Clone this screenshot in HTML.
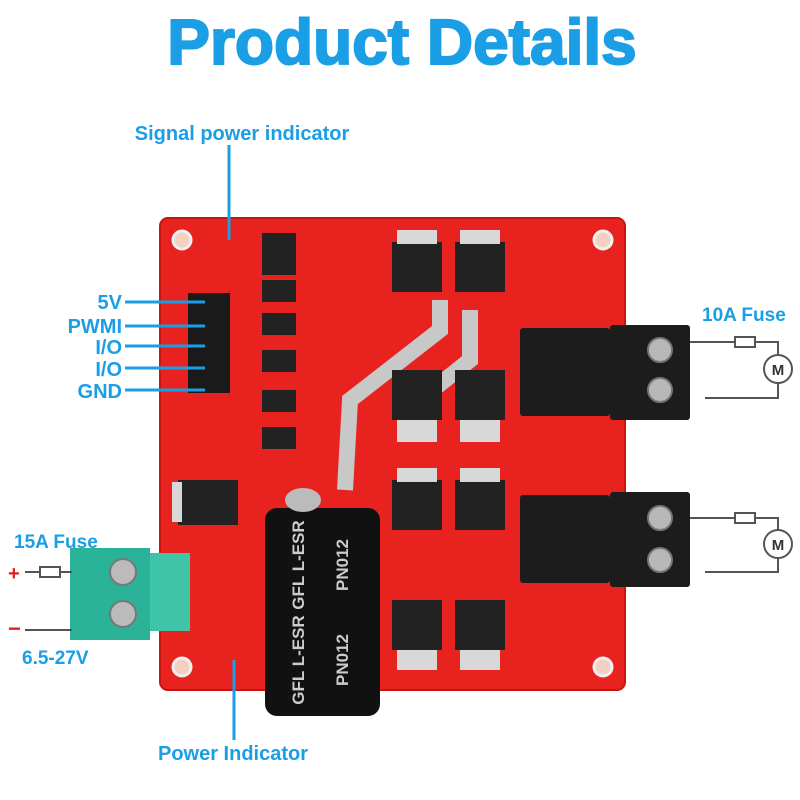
<!DOCTYPE html>
<html><head><style>
html,body{margin:0;padding:0;background:#fff;}
svg{display:block;}
text{font-family:"Liberation Sans",sans-serif;font-weight:bold;}
</style></head><body>
<svg width="800" height="800" viewBox="0 0 800 800" xmlns="http://www.w3.org/2000/svg">
<rect width="800" height="800" fill="#fff"/>
<text x="402" y="64" text-anchor="middle" font-size="64" fill="#1a9ee6" stroke="#1a9ee6" stroke-width="2">Product Details</text>
<!-- PCB -->
<rect x="160" y="218" width="465" height="472" rx="8" fill="#e8231f"/>
<rect x="160" y="218" width="465" height="472" rx="8" fill="none" stroke="#c81510" stroke-width="2"/>
<g fill="#f4d0c0" stroke="#f0f0f0" stroke-width="3">
<circle cx="182" cy="240" r="9"/><circle cx="603" cy="240" r="9"/><circle cx="182" cy="667" r="9"/><circle cx="603" cy="667" r="9"/>
</g>
<path d="M440 300 L440 330 L350 400 L345 490 M470 310 L470 360 L420 400" stroke="#c8c8c8" stroke-width="16" fill="none"/>
<g fill="#222">
<rect x="262" y="233" width="34" height="22"/><rect x="262" y="280" width="34" height="22"/><rect x="262" y="313" width="34" height="22"/><rect x="262" y="350" width="34" height="22"/><rect x="262" y="390" width="34" height="22"/><rect x="262" y="427" width="34" height="22"/>
<rect x="262" y="253" width="34" height="22"/>
</g>
<rect x="188" y="293" width="42" height="100" fill="#1a1a1a"/>
<g fill="#222">
<rect x="392" y="242" width="50" height="50"/><rect x="455" y="242" width="50" height="50"/>
<rect x="392" y="370" width="50" height="50"/><rect x="455" y="370" width="50" height="50"/>
<rect x="392" y="480" width="50" height="50"/><rect x="455" y="480" width="50" height="50"/>
<rect x="392" y="600" width="50" height="50"/><rect x="455" y="600" width="50" height="50"/>
<rect x="178" y="480" width="60" height="45"/>
</g>
<g fill="#d8d8d8">
<rect x="397" y="230" width="40" height="14"/><rect x="460" y="230" width="40" height="14"/>
<rect x="397" y="420" width="40" height="22"/><rect x="460" y="420" width="40" height="22"/>
<rect x="397" y="468" width="40" height="14"/><rect x="460" y="468" width="40" height="14"/>
<rect x="397" y="650" width="40" height="20"/><rect x="460" y="650" width="40" height="20"/>
<rect x="172" y="482" width="10" height="40"/>
</g>
<g fill="#1c1c1c">
<rect x="520" y="328" width="90" height="88" rx="3"/><rect x="610" y="325" width="80" height="95" rx="3"/>
<rect x="520" y="495" width="90" height="88" rx="3"/><rect x="610" y="492" width="80" height="95" rx="3"/>
</g>
<g fill="#b8b8b8" stroke="#777" stroke-width="2">
<circle cx="660" cy="350" r="12"/><circle cx="660" cy="390" r="12"/><circle cx="660" cy="518" r="12"/><circle cx="660" cy="560" r="12"/>
</g>
<g stroke="#555" stroke-width="2" fill="none">
<path d="M690 342 H735 M755 342 H778 V355 M778 383 V398 H705"/>
<rect x="735" y="337" width="20" height="10"/>
<circle cx="778" cy="369" r="14" fill="#fff"/>
<path d="M690 518 H735 M755 518 H778 V530 M778 558 V572 H705"/>
<rect x="735" y="513" width="20" height="10"/>
<circle cx="778" cy="544" r="14" fill="#fff"/>
</g>
<text x="778" y="375" text-anchor="middle" font-size="15" fill="#333">M</text>
<text x="778" y="550" text-anchor="middle" font-size="15" fill="#333">M</text>
<text x="702" y="321" font-size="19" fill="#1a9ee6">10A Fuse</text>
<!-- capacitor -->
<rect x="265" y="508" width="115" height="208" rx="12" fill="#111"/>
<ellipse cx="303" cy="500" rx="18" ry="12" fill="#bbb"/>
<text x="304" y="565" font-size="17" fill="#ccc" transform="rotate(-90 304 565)" text-anchor="middle">GFL L-ESR</text>
<text x="348" y="565" font-size="17" fill="#ccc" transform="rotate(-90 348 565)" text-anchor="middle">PN012</text>
<text x="304" y="660" font-size="17" fill="#ccc" transform="rotate(-90 304 660)" text-anchor="middle">GFL L-ESR</text>
<text x="348" y="660" font-size="17" fill="#ccc" transform="rotate(-90 348 660)" text-anchor="middle">PN012</text>
<!-- green terminal -->
<rect x="70" y="548" width="80" height="92" fill="#2bb39a"/>
<rect x="150" y="553" width="40" height="78" fill="#3fc4a8"/>
<circle cx="123" cy="572" r="13" fill="#bbb" stroke="#777" stroke-width="2"/>
<circle cx="123" cy="614" r="13" fill="#bbb" stroke="#777" stroke-width="2"/>
<g stroke="#555" stroke-width="2" fill="none"><path d="M25 572 H40 M60 572 H72 M25 630 H72"/><rect x="40" y="567" width="20" height="10"/></g>
<text x="14" y="548" font-size="19" fill="#1a9ee6">15A Fuse</text>
<text x="8" y="580" font-size="20" fill="#e02020">+</text>
<text x="8" y="636" font-size="22" fill="#e02020">−</text>
<text x="22" y="664" font-size="19" fill="#1a9ee6">6.5-27V</text>
<g stroke="#1a9ee6" stroke-width="3">
<line x1="125" y1="302" x2="205" y2="302"/><line x1="125" y1="326" x2="205" y2="326"/><line x1="125" y1="346" x2="205" y2="346"/><line x1="125" y1="368" x2="205" y2="368"/><line x1="125" y1="390" x2="205" y2="390"/>
<line x1="229" y1="145" x2="229" y2="240"/><line x1="234" y1="660" x2="234" y2="740"/>
</g>
<g font-size="20" fill="#1a9ee6" text-anchor="end">
<text x="122" y="309">5V</text><text x="122" y="333">PWMI</text><text x="122" y="354">I/O</text><text x="122" y="376">I/O</text><text x="122" y="398">GND</text>
</g>
<text x="242" y="140" text-anchor="middle" font-size="20" fill="#1a9ee6">Signal power indicator</text>
<text x="233" y="760" text-anchor="middle" font-size="20" fill="#1a9ee6">Power Indicator</text>
</svg>
</body></html>
